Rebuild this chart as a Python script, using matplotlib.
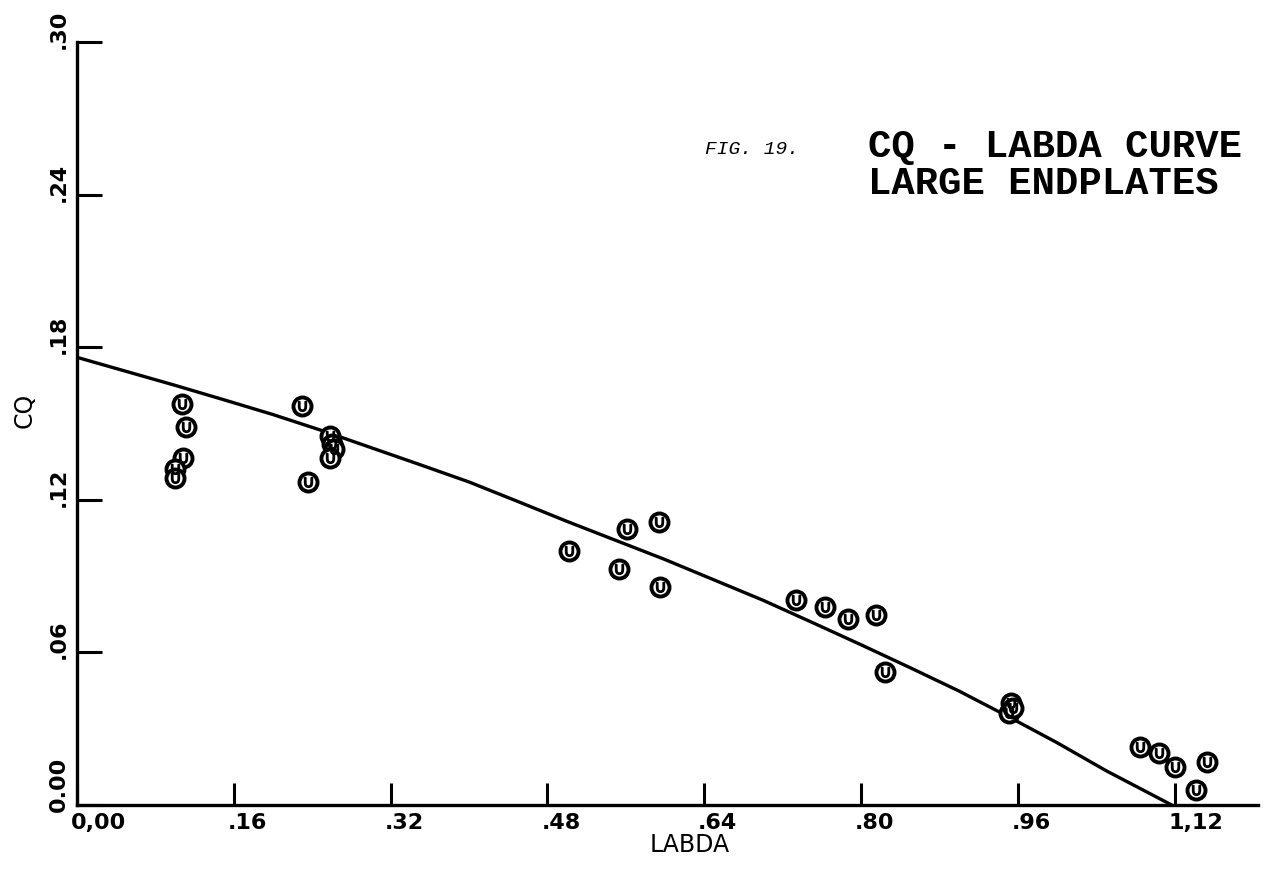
import numpy as np
import matplotlib.pyplot as plt
import matplotlib.transforms as mtransforms

# measured points (LABDA, CQ)
labda = [0.107, 0.111, 0.108, 0.100, 0.100,
         0.230, 0.258, 0.260, 0.262, 0.258, 0.236,
         0.502, 0.561, 0.594, 0.553, 0.595,
         0.734, 0.763, 0.787, 0.815, 0.825,
         0.953, 0.951, 0.955,
         1.085, 1.104, 1.120, 1.153, 1.142]
cq = [0.1577, 0.1488, 0.1363, 0.1320, 0.1285,
      0.1570, 0.1450, 0.1420, 0.1400, 0.1365, 0.1268,
      0.1000, 0.1084, 0.1114, 0.0927, 0.0856,
      0.0806, 0.0780, 0.0733, 0.0747, 0.0524,
      0.0400, 0.0360, 0.0380,
      0.0229, 0.0206, 0.0151, 0.0170, 0.0059]

# fitted curve
curve_x = [0.0, 0.05, 0.10, 0.15, 0.20, 0.25, 0.30, 0.35, 0.40, 0.45,
           0.50, 0.55, 0.60, 0.65, 0.70, 0.75, 0.80, 0.85, 0.90, 0.95,
           1.00, 1.05, 1.117]
curve_y = [0.176, 0.1705, 0.165, 0.1593, 0.1535, 0.1472, 0.1405, 0.1338,
           0.127, 0.1193, 0.1115, 0.1040, 0.0965, 0.0885, 0.0805, 0.0718,
           0.0630, 0.0540, 0.0448, 0.0348, 0.0245, 0.0135, 0.0]

xticks = [0.0, 0.16, 0.32, 0.48, 0.64, 0.80, 0.96, 1.12]
xticklabels = ["0,00", ".16", ".32", ".48", ".64", ".80", ".96", "1,12"]
yticks = [0.0, 0.06, 0.12, 0.18, 0.24, 0.30]
yticklabels = ["0.00", ".06", ".12", ".18", ".24", ".30"]

fig = plt.figure(figsize=(12.68, 8.74), dpi=100)
ax = fig.add_axes([0.0607, 0.079, 0.9313, 0.873])

ax.plot(curve_x, curve_y, color="black", lw=2.4, solid_capstyle="round",
        solid_joinstyle="round")
ax.plot(labda, cq, ls="none", marker="o", ms=13, mfc="white", mec="black",
        mew=2.8, clip_on=False)
ax.plot(labda, cq, ls="none", marker=r"$\cup$", ms=7, color="black",
        clip_on=False)

ax.set_xlim(0, 1.205)
ax.set_ylim(0, 0.30)

for s in ["top", "right"]:
    ax.spines[s].set_visible(False)
for s in ["left", "bottom"]:
    ax.spines[s].set_linewidth(2.4)

ax.set_xticks(xticks)
ax.set_xticklabels(xticklabels, fontsize=16, fontweight="bold", ha="left")
ax.set_yticks(yticks)
ax.set_yticklabels(yticklabels, fontsize=16, fontweight="bold",
                   rotation=90, va="bottom")
ax.tick_params(axis="x", direction="in", length=16, width=2.2, pad=6)
ax.tick_params(axis="y", direction="in", length=18, width=2.2, pad=6)

dx = mtransforms.ScaledTranslation(-6 / 100, 0, fig.dpi_scale_trans)
for lab in ax.get_xticklabels():
    lab.set_transform(lab.get_transform() + dx)
dy = mtransforms.ScaledTranslation(0, -7 / 100, fig.dpi_scale_trans)
for lab in ax.get_yticklabels():
    lab.set_transform(lab.get_transform() + dy)

fig.text(690 / 1268, 1 - 845 / 874, "LABDA", fontsize=17, ha="center",
         va="center")
fig.text(25 / 1268, 1 - 410 / 874, "CQ", fontsize=17, rotation=90,
         ha="center", va="center")

fig.text(705 / 1268, 1 - 150 / 874, "FIG. 19.", fontsize=14, style="italic",
         family="Liberation Mono", ha="left", va="center")
fig.text(868 / 1268, 1 - 147 / 874, "CQ - LABDA CURVE", fontsize=28,
         family="Liberation Mono", fontweight="bold", ha="left", va="center")
fig.text(868 / 1268, 1 - 184 / 874, "LARGE ENDPLATES", fontsize=28,
         family="Liberation Mono", fontweight="bold", ha="left", va="center")

fig.savefig("out.png", dpi=100)
